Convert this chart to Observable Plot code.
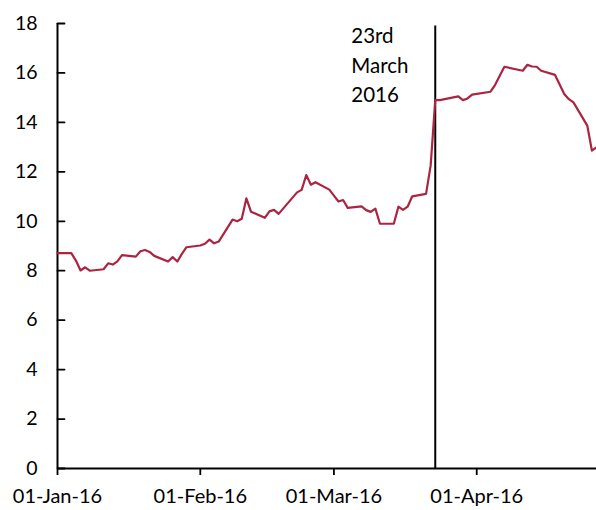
<!DOCTYPE html>
<html>
<head>
<meta charset="utf-8">
<script src="https://cdn.jsdelivr.net/npm/d3@7"></script>
<script src="https://cdn.jsdelivr.net/npm/@observablehq/plot@0.6"></script>
<style>
  html, body { margin: 0; padding: 0; background: #fff; }
</style>
</head>
<body>
<div id="chart"></div>
<script>
// Series: dates and values
const dates = [
  "2016-01-01","2016-01-04","2016-01-05","2016-01-06","2016-01-07","2016-01-08",
  "2016-01-11","2016-01-12","2016-01-13","2016-01-14","2016-01-15",
  "2016-01-18","2016-01-19","2016-01-20","2016-01-21","2016-01-22",
  "2016-01-25","2016-01-26","2016-01-27","2016-01-28","2016-01-29",
  "2016-02-01","2016-02-02","2016-02-03","2016-02-04","2016-02-05",
  "2016-02-08","2016-02-09","2016-02-10","2016-02-11","2016-02-12",
  "2016-02-15","2016-02-16","2016-02-17","2016-02-18",
  "2016-02-22","2016-02-23","2016-02-24","2016-02-25","2016-02-26",
  "2016-02-29","2016-03-01","2016-03-02","2016-03-03","2016-03-04",
  "2016-03-07","2016-03-08","2016-03-09","2016-03-10","2016-03-11",
  "2016-03-14","2016-03-15","2016-03-16","2016-03-17","2016-03-18",
  "2016-03-21","2016-03-22","2016-03-23","2016-03-24",
  "2016-03-28","2016-03-29","2016-03-30","2016-03-31",
  "2016-04-04","2016-04-05","2016-04-07",
  "2016-04-11","2016-04-12","2016-04-13","2016-04-14","2016-04-15",
  "2016-04-18","2016-04-20","2016-04-21","2016-04-22",
  "2016-04-25","2016-04-26","2016-04-27"
];
const values = [
  8.71, 8.71, 8.41, 8.01, 8.14, 8.00,
  8.06, 8.30, 8.25, 8.38, 8.63,
  8.57, 8.79, 8.84, 8.76, 8.60,
  8.37, 8.55, 8.37, 8.68, 8.95,
  9.02, 9.09, 9.26, 9.11, 9.18,
  10.07, 10.00, 10.10, 10.93, 10.39,
  10.14, 10.40, 10.46, 10.30,
  11.17, 11.27, 11.87, 11.48, 11.58,
  11.28, 11.04, 10.80, 10.86, 10.54,
  10.60, 10.45, 10.38, 10.51, 9.90,
  9.90, 10.59, 10.46, 10.59, 11.01,
  11.11, 12.25, 14.90, 14.90,
  15.05, 14.90, 14.97, 15.12,
  15.24, 15.52, 16.25,
  16.09, 16.33, 16.26, 16.25, 16.09,
  15.92, 15.15, 14.94, 14.81,
  13.87, 12.86, 12.99
];

// Axis ticks and annotation
const yTicks = [0, 2, 4, 6, 8, 10, 12, 14, 16, 18];
const xTicks = ["2016-01-01", "2016-02-01", "2016-03-01", "2016-04-01"];
const xDomain = ["2016-01-01", "2016-04-27"];
const eventDate = ["2016-03-23"];
const eventLabel = ["23rd\nMarch\n2016"];

const parse = d3.utcParse("%Y-%m-%d");
const data = dates.map((d, i) => ({date: parse(d), value: values[i]}));
const start = parse(xDomain[0]);
const fmt = d3.utcFormat("%d-%b-%y");

const chart = Plot.plot({
  width: 596,
  height: 510,
  marginLeft: 57,
  marginRight: 0,
  marginTop: 23,
  marginBottom: 42,
  style: {fontFamily: "Lato, 'Open Sans', sans-serif", fontSize: "19px", color: "#000", background: "#fff"},
  x: {type: "utc", domain: xDomain.map(parse)},
  y: {domain: [0, 18]},
  marks: [
    Plot.axisY({ticks: yTicks, tickSize: 0, tickPadding: 20, label: null, fontSize: 19.5}),
    Plot.vector(yTicks, {
      x: () => start, y: d => d, length: 7, rotate: 90, anchor: "start",
      shape: {draw(ctx, l) { ctx.moveTo(0, 0); ctx.lineTo(0, -l); }},
      stroke: "#000", strokeWidth: 1.8
    }),
    Plot.axisX({ticks: xTicks.map(parse), tickFormat: fmt, tickSize: 7, tickPadding: 13, label: null, fontSize: 20, strokeWidth: 1.8}),
    Plot.ruleX([start], {y1: 0, y2: 18, stroke: "#000", strokeWidth: 2}),
    Plot.ruleY([0], {stroke: "#000", strokeWidth: 2}),
    Plot.ruleX(eventDate.map(parse), {y1: 0, y2: 17.9, stroke: "#000", strokeWidth: 2}),
    Plot.text(eventLabel, {
      x: eventDate.map(parse)[0], y: 16.4, text: d => d,
      dx: -84, textAnchor: "start", lineAnchor: "middle", lineHeight: 1.45, fontSize: 20.5, fill: "#000"
    }),
    Plot.line(data, {x: "date", y: "value", stroke: "#ab2442", strokeWidth: 2.2})
  ]
});
document.getElementById("chart").append(chart);
</script>
</body>
</html>
